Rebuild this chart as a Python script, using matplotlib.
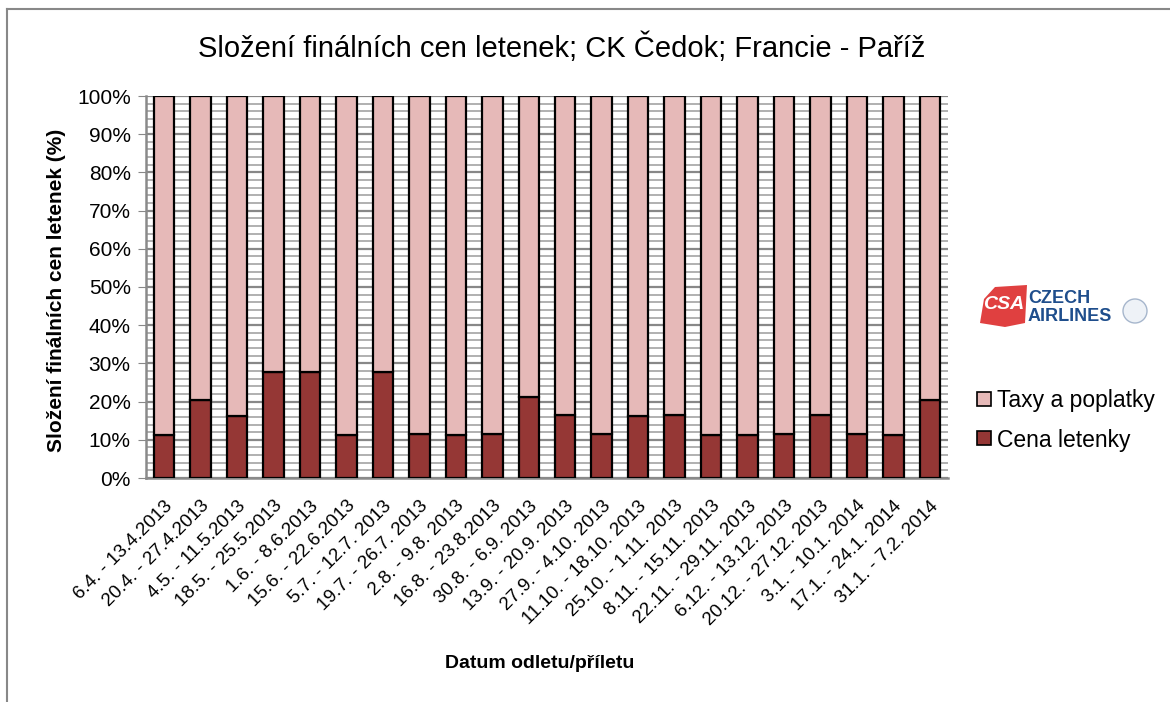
import matplotlib
matplotlib.use("Agg")
import matplotlib.pyplot as plt
from matplotlib.patches import Polygon, Circle
from matplotlib.lines import Line2D
from matplotlib.ticker import MultipleLocator, PercentFormatter
import numpy as np

plt.rcParams['font.family'] = ['Liberation Sans', 'DejaVu Sans']

categories = [
    "6.4. - 13.4.2013", "20.4. - 27.4.2013", "4.5. - 11.5.2013", "18.5. - 25.5.2013",
    "1.6. - 8.6.2013", "15.6. - 22.6.2013", "5.7. - 12.7. 2013", "19.7. - 26.7. 2013",
    "2.8. - 9.8. 2013", "16.8. - 23.8.2013", "30.8. - 6.9. 2013", "13.9. - 20.9. 2013",
    "27.9. - 4.10. 2013", "11.10. - 18.10. 2013", "25.10. - 1.11. 2013", "8.11. - 15.11. 2013",
    "22.11. - 29.11. 2013", "6.12. - 13.12. 2013", "20.12. - 27.12. 2013", "3.1. - 10.1. 2014",
    "17.1. - 24.1. 2014", "31.1. - 7.2. 2014",
]
cena_letenky = [11.3, 20.5, 16.1, 27.8, 27.8, 11.3, 27.8, 11.4, 11.3, 11.5, 21.1,
                16.4, 11.4, 16.1, 16.4, 11.3, 11.3, 11.4, 16.4, 11.4, 11.3, 20.3]
taxy_a_poplatky = [100 - v for v in cena_letenky]

series_names = ["Taxy a poplatky", "Cena letenky"]
title = "Složení finálních cen letenek; CK Čedok; Francie - Paříž"
ylabel = "Složení finálních cen letenek (%)"
xlabel = "Datum odletu/příletu"

c_dark = "#953735"
c_light = "#E6B9B8"

fig = plt.figure(figsize=(11.7, 7.02), dpi=100)
W, H = 1170, 702
ax = fig.add_axes([146 / W, 1 - 478 / H, 802 / W, 382 / H])

x = np.arange(len(categories))
ax.bar(x, cena_letenky, width=0.56, color=c_dark, edgecolor="black", linewidth=1.6, zorder=3)
ax.bar(x, taxy_a_poplatky, bottom=cena_letenky, width=0.56, color=c_light,
       edgecolor="black", linewidth=1.6, zorder=3)

ax.set_xlim(-0.5, len(categories) - 0.5)
ax.set_ylim(0, 100)
ax.yaxis.set_major_locator(MultipleLocator(10))
ax.yaxis.set_minor_locator(MultipleLocator(2))
ax.yaxis.set_major_formatter(PercentFormatter(decimals=0))
ax.grid(which="major", axis="y", color="#888888", linewidth=1.6, zorder=0)
ax.grid(which="minor", axis="y", color="#b0b0b0", linewidth=1.4, zorder=0)
ax.tick_params(axis="y", which="major", length=6, color="#888888", labelsize=15, pad=5)
ax.tick_params(axis="y", which="minor", length=0)
ax.set_xticks(x)
ax.set_xticklabels(categories, rotation=45, ha="right", rotation_mode="anchor", fontsize=13.5)
ax.tick_params(axis="x", length=0, pad=14)
for s in ["top", "right"]:
    ax.spines[s].set_visible(False)
for s in ["left", "bottom"]:
    ax.spines[s].set_color("#8a8a8a")
    ax.spines[s].set_linewidth(1.8)

fig.text(562 / W, 1 - 48 / H, title, ha="center", va="center", fontsize=21)
fig.text(57 / W, 1 - 290 / H, ylabel, rotation=90, ha="center", va="center",
         fontsize=15, fontweight="bold")
fig.text(540 / W, 1 - 663 / H, xlabel, ha="center", va="center", fontsize=14, fontweight="bold")

# legend
handles = [Line2D([], [], marker="s", linestyle="none", markersize=10, markerfacecolor=c,
                  markeredgecolor="black", markeredgewidth=1.2) for c in (c_light, c_dark)]
fig.legend(handles, series_names, loc="upper left", bbox_to_anchor=(973 / W, 1 - 389 / H),
           frameon=False, fontsize=16.5, handletextpad=0.05, labelspacing=0.72, handlelength=1.0,
           borderaxespad=0, borderpad=0)

# airline logo approximation
logo = fig.add_axes([975 / W, 1 - 335 / H, 185 / W, 55 / H])
logo.set_xlim(0, 185)
logo.set_ylim(0, 55)
logo.axis("off")
logo.add_patch(Polygon([[5, 12], [9, 36], [20, 48], [52, 50], [50, 12], [30, 8]],
                       closed=True, color="#E04040", lw=0))
logo.text(29, 30, "CSA", color="white", fontsize=14, fontweight="bold", style="italic",
          ha="center", va="center")
logo.text(53, 36, "CZECH", color="#1F4E8C", fontsize=13, fontweight="bold", ha="left", va="center")
logo.text(53, 18, "AIRLINES", color="#1F4E8C", fontsize=13, fontweight="bold", ha="left", va="center")
logo.add_patch(Circle((160, 24), 12, facecolor="#eef2f7", edgecolor="#a6b6cc", lw=1))

# figure frame (top and left edges visible)
fig.add_artist(Line2D([7 / W, 7 / W], [0, 1 - 9 / H], transform=fig.transFigure, color="#888888", lw=1.5))
fig.add_artist(Line2D([7 / W, 1], [1 - 9 / H, 1 - 9 / H], transform=fig.transFigure, color="#888888", lw=1.5))

fig.savefig("out.png", dpi=100)
